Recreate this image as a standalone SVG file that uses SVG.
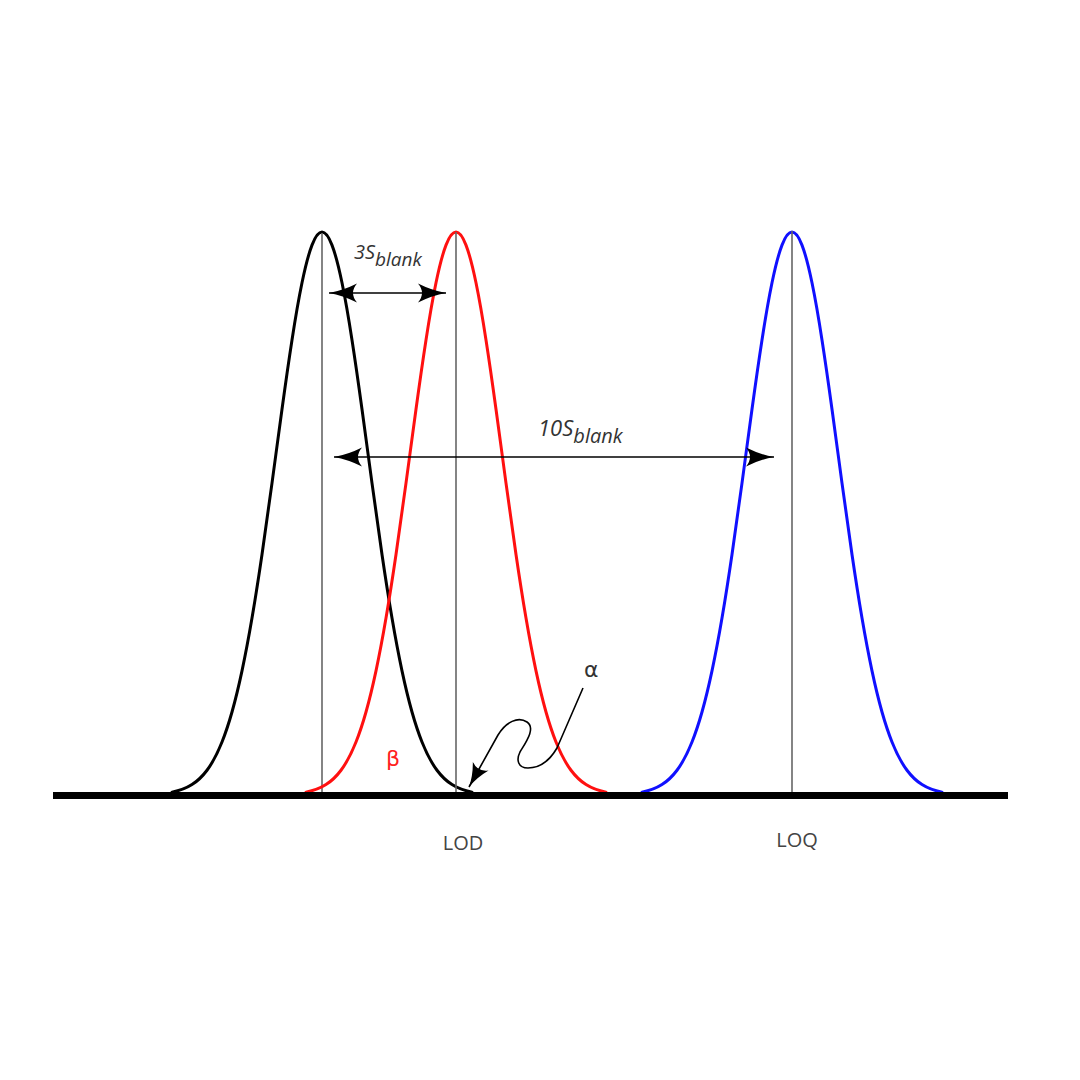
<svg xmlns="http://www.w3.org/2000/svg" width="1080" height="1080" viewBox="0 0 1080 1080">
<style>
.curve{fill:none;stroke-width:3;stroke-linejoin:round;stroke-linecap:round}
.vline{stroke:#666;stroke-width:1.6}
.dim{stroke:#000;stroke-width:1.6;fill:none}
.lbl{font-family:"Open Sans","DejaVu Sans",sans-serif;fill:#444}
.it{font-family:"Open Sans","DejaVu Sans",sans-serif;font-style:italic;fill:#333}
</style>
<defs>
<path id="gauss" d="M-150,-2.8 C-143.33,-4.12 -136.67,-6.14 -130,-10.4 C-125,-13.6 -120,-18.01 -115,-24.74 C-110,-31.47 -105,-40.48 -100,-53 C-96.67,-61.35 -93.33,-71.23 -90,-83 C-86.67,-94.77 -83.33,-108.46 -80,-124.1 C-76.67,-139.74 -73.33,-157.39 -70,-176.9 C-66.67,-196.41 -63.33,-217.77 -60,-240.5 C-56.67,-263.23 -53.33,-287.33 -50,-311.9 C-46.67,-336.47 -43.33,-361.49 -40,-385.8 C-36.67,-410.11 -33.33,-433.59 -30,-455.1 C-26.67,-476.61 -23.33,-496.06 -20,-512.2 C-16.67,-528.34 -13.33,-541.24 -10,-549.9 C-6.67,-558.56 -3.33,-563 0,-563 C3.33,-563 6.67,-558.56 10,-549.9 C13.33,-541.24 16.67,-528.34 20,-512.2 C23.33,-496.06 26.67,-476.61 30,-455.1 C33.33,-433.59 36.67,-410.11 40,-385.8 C43.33,-361.49 46.67,-336.47 50,-311.9 C53.33,-287.33 56.67,-263.23 60,-240.5 C63.33,-217.77 66.67,-196.41 70,-176.9 C73.33,-157.39 76.67,-139.74 80,-124.1 C83.33,-108.46 86.67,-94.77 90,-83 C93.33,-71.23 96.67,-61.35 100,-53 C105,-40.48 110,-31.47 115,-24.74 C120,-18.01 125,-13.6 130,-10.4 C136.67,-6.14 143.33,-4.12 150,-2.8"/>
<marker id="head" markerUnits="userSpaceOnUse" markerWidth="40" markerHeight="30" viewBox="-30 -15 40 30" refX="0" refY="0" orient="auto-start-reverse" overflow="visible">
<path d="M0,0 Q-14,-2.5 -28,-9.5 Q-20,0 -28,9.5 Q-14,2.5 0,0 Z" fill="#000"/>
</marker>
<marker id="headSmall" markerUnits="userSpaceOnUse" markerWidth="30" markerHeight="24" viewBox="-25 -12 30 24" refX="0" refY="0" orient="auto" overflow="visible">
<path d="M0,0 Q-12,-2 -24,-9 Q-17,0 -24,9 Q-12,2 0,0 Z" fill="#000"/>
</marker>
</defs>
<rect width="1080" height="1080" fill="#fff"/>
<g id="blank-curve">
<use href="#gauss" class="curve" stroke="#000" transform="translate(322,795)"/>
<line class="vline" x1="322" y1="233" x2="322" y2="793"/>
</g>
<g id="lod-curve">
<use href="#gauss" class="curve" stroke="#ff1010" transform="translate(456,795)"/>
<line class="vline" x1="456" y1="232" x2="456" y2="793"/>
</g>
<g id="loq-curve">
<use href="#gauss" class="curve" stroke="#1010ff" transform="translate(792,795)"/>
<line class="vline" x1="792" y1="231" x2="792" y2="793"/>
</g>
<g id="baseline">
<rect x="53" y="792" width="955" height="7" fill="#000"/>
</g>
<g id="connectors">
<line class="dim" x1="329" y1="293" x2="446" y2="293" marker-start="url(#head)" marker-end="url(#head)"/>
<line class="dim" x1="334" y1="457" x2="774" y2="457" marker-start="url(#head)" marker-end="url(#head)"/>
<path class="dim" d="M583,688 L557,748 C550,760 540,768 528,768 C518,768 516,760 520,752 C526,742 536,728 527,722 C518,716 506,722 498,735 L469,787" marker-end="url(#headSmall)"/>
</g>
<g id="labels">
<text class="it" x="354" y="259" font-size="20">3S<tspan font-size="19" dy="7">blank</tspan></text>
<text class="it" x="538" y="436" font-size="22">10S<tspan font-size="20" dy="7">blank</tspan></text>
<text x="584" y="677" font-family="DejaVu Sans,sans-serif" font-size="22" fill="#333">α</text>
<text x="386" y="766" font-family="DejaVu Sans,sans-serif" font-size="22" fill="#ff2020">β</text>
<text class="lbl" x="463" y="850" font-size="20" text-anchor="middle">LOD</text>
<text class="lbl" x="797" y="847" font-size="20" text-anchor="middle">LOQ</text>
</g>
</svg>
